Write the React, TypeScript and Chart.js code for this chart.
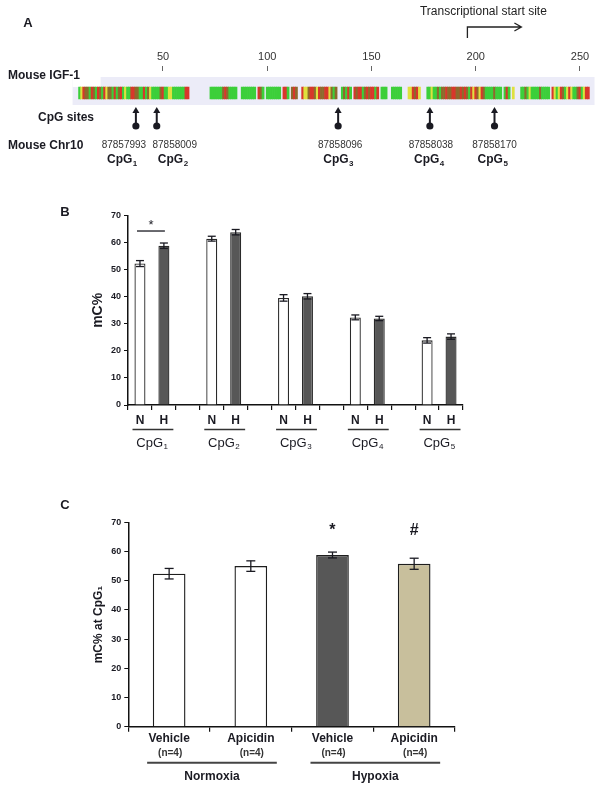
import React, { useEffect, useRef } from 'react';
import { Chart, registerables } from 'chart.js';

Chart.register(...registerables);

const FONT = '"Liberation Sans", Arial, Helvetica, sans-serif';
const INK = '#1a1a22';

// ---------------- Panel A data ----------------
const seqTickValues = [50, 100, 150, 200, 250];
const seqFirstPosition = 10;
const seqColorCodes = [
  'gyrbbgrbgr', 'bgrybbgrgbrgyg', 'grrbbggrgbyg', 'gggbrggyyggggggrr', '..........',
  'ggggggbrbgggg', '..', 'ggggggg', '.', 'rbg', '.', 'ggggggg', '.', 'rrg', '.', 'brb', '..',
  'ryybrrbyrbbrrybgb', '..', 'gbgrg', '.', 'rbrrgbrbrrgr', '.', 'ggg', '..', 'ggggg', '...',
  'yyrbry', '...', 'ggyggbg', 'bbrbbrrbbrbrbg', 'ryrbyrb', 'ggggbggg', '.', 'grg', '.', 'y', '...',
  'ggbgyg', 'gggbgggg', '.', 'rygyrbgyryggbrgyrr',
].join('');
const seqPalette: Record<string, string> = { g: '#3ccf3a', y: '#dfe03e', r: '#d8372b', b: '#8e6a2c' };
const cpgPositions = [37, 47, 134, 178, 209];
const cpgChrCoords = ['87857993', '87858009', '87858096', '87858038', '87858170'];
const cpgSubscripts = ['1', '2', '3', '4', '5'];
const tssPosition = 196;
const tssLabel = 'Transcriptional start site';
const rowLabels = ['Mouse IGF-1', 'CpG sites', 'Mouse Chr10'];

// ---------------- Panel B data ----------------
const bSites = ['1', '2', '3', '4', '5'];
const bGroupLabels = ['N', 'H'];
const bNormoxia = [52.3, 61.5, 39.6, 32.4, 23.9];
const bNormoxiaErr = [1.1, 0.9, 1.2, 0.9, 1.0];
const bHypoxia = [58.9, 63.9, 40.2, 32.0, 25.3];
const bHypoxiaErr = [1.0, 1.0, 1.0, 0.8, 1.0];
const bSignificant = [true, false, false, false, false];

// ---------------- Panel C data ----------------
const cTreatments = ['Vehicle', 'Apicidin', 'Vehicle', 'Apicidin'];
const cSampleSizes = ['(n=4)', '(n=4)', '(n=4)', '(n=4)'];
const cValues = [52.4, 55.0, 58.8, 55.8];
const cErrors = [1.8, 1.8, 1.0, 1.9];
const cMarks = ['', '', '*', '#'];
const cConditions = ['Normoxia', 'Hypoxia'];
const cColors = ['#ffffff', '#ffffff', '#575757', '#c8bf9c'];

// ---------------- helpers ----------------
function txt(ctx: CanvasRenderingContext2D, s: string, x: number, y: number, font: string, align: CanvasTextAlign = 'center', color = INK, baseline: CanvasTextBaseline = 'middle') {
  ctx.save();
  ctx.font = font;
  ctx.fillStyle = color;
  ctx.textAlign = align;
  ctx.textBaseline = baseline;
  ctx.fillText(s, x, y);
  ctx.restore();
}

function subTxt(ctx: CanvasRenderingContext2D, base: string, sub: string, cx: number, cy: number, size: number, weight: string, color = INK) {
  ctx.save();
  const f1 = `${weight} ${size}px ${FONT}`;
  const f2 = `${weight} ${Math.round(size * 0.65)}px ${FONT}`;
  ctx.font = f1;
  const w1 = ctx.measureText(base).width;
  ctx.font = f2;
  const w2 = ctx.measureText(sub).width;
  const x0 = cx - (w1 + w2) / 2;
  ctx.fillStyle = color;
  ctx.textAlign = 'left';
  ctx.textBaseline = 'middle';
  ctx.font = f1;
  ctx.fillText(base, x0, cy);
  ctx.font = f2;
  ctx.fillText(sub, x0 + w1 + 0.5, cy + size * 0.32);
  ctx.restore();
}

function line(ctx: CanvasRenderingContext2D, x1: number, y1: number, x2: number, y2: number, w = 1.3, color = INK) {
  ctx.save();
  ctx.strokeStyle = color;
  ctx.lineWidth = w;
  ctx.beginPath();
  ctx.moveTo(x1, y1);
  ctx.lineTo(x2, y2);
  ctx.stroke();
  ctx.restore();
}

function errorBar(ctx: CanvasRenderingContext2D, x: number, yHi: number, yLo: number, cap: number) {
  line(ctx, x, yHi, x, yLo, 1.3);
  line(ctx, x - cap / 2, yHi, x + cap / 2, yHi, 1.3);
  line(ctx, x - cap / 2, yLo, x + cap / 2, yLo, 1.3);
}

function ChartCanvas({ make, top, height }: { make: () => any; top: number; height: number }) {
  const ref = useRef<HTMLCanvasElement>(null);
  useEffect(() => {
    const chart = new Chart(ref.current as HTMLCanvasElement, make());
    return () => chart.destroy();
  }, []);
  return (
    <canvas
      ref={ref}
      width={602}
      height={height}
      style={{ position: 'absolute', left: 0, top, width: 602, height }}
    />
  );
}

// ---------------- Panel A ----------------
function makeA() {
  const bars: any[] = [];
  const colors: string[] = [];
  for (let i = 0; i < seqColorCodes.length; i++) {
    const c = seqColorCodes[i];
    if (c === '.') continue;
    bars.push({ x: seqFirstPosition + i, y: [0.176, 0.53] });
    colors.push(seqPalette[c]);
  }
  const decor = {
    id: 'stripDecor',
    beforeDatasetsDraw(chart: any) {
      const { ctx, chartArea } = chart;
      const xs = chart.scales.x;
      const x0 = xs.getPixelForValue(seqFirstPosition) - 7;
      const x1 = chartArea.right + 2;
      ctx.save();
      ctx.fillStyle = '#ececf8';
      ctx.fillRect(x0, chartArea.top + 6, x1 - x0, chartArea.bottom - chartArea.top - 6);
      ctx.fillStyle = '#ffffff';
      ctx.fillRect(x0, chartArea.top + 6, 28, 10);
      ctx.restore();
    },
    afterDraw(chart: any) {
      const { ctx, chartArea } = chart;
      const xs = chart.scales.x;
      const nudge = [-12, 18, 2, 1, 0];
      cpgPositions.forEach((p, i) => {
        const px = xs.getPixelForValue(p);
        const yTip = chartArea.bottom + 2;
        ctx.save();
        ctx.fillStyle = INK;
        ctx.beginPath();
        ctx.moveTo(px, yTip);
        ctx.lineTo(px - 3.5, yTip + 6);
        ctx.lineTo(px + 3.5, yTip + 6);
        ctx.closePath();
        ctx.fill();
        ctx.beginPath();
        ctx.arc(px, chartArea.bottom + 21, 3.6, 0, Math.PI * 2);
        ctx.fill();
        ctx.restore();
        line(ctx, px, yTip + 5, px, chartArea.bottom + 21, 2);
        txt(ctx, cpgChrCoords[i], px + nudge[i], 145, `10px ${FONT}`, 'center', '#333');
        subTxt(ctx, 'CpG', cpgSubscripts[i], px + nudge[i] - 2, 159.5, 12, 'bold');
      });
      // transcriptional start site
      const tx = xs.getPixelForValue(tssPosition);
      ctx.save();
      ctx.strokeStyle = '#222';
      ctx.lineWidth = 1.3;
      ctx.beginPath();
      ctx.moveTo(tx, 38);
      ctx.lineTo(tx, 27);
      ctx.lineTo(tx + 54, 27);
      ctx.moveTo(tx + 47, 23);
      ctx.lineTo(tx + 54, 27);
      ctx.lineTo(tx + 47, 31);
      ctx.stroke();
      ctx.restore();
      txt(ctx, tssLabel, tx + 16, 12, `12px ${FONT}`, 'center', '#222');
      txt(ctx, 'A', 28, 23, `bold 13px ${FONT}`);
      txt(ctx, rowLabels[0], 8, 76, `bold 12px ${FONT}`, 'left');
      txt(ctx, rowLabels[1], 38, 118, `bold 12px ${FONT}`, 'left');
      txt(ctx, rowLabels[2], 8, 146, `bold 12px ${FONT}`, 'left');
    },
  };
  return {
    type: 'bar',
    data: {
      datasets: [
        {
          data: bars,
          backgroundColor: colors,
          borderWidth: 0,
          barPercentage: 1,
          categoryPercentage: 1,
        },
      ],
    },
    options: {
      responsive: false,
      maintainAspectRatio: false,
      animation: false,
      layout: { padding: { left: 58.75, right: 9.5, top: 50, bottom: 65 } },
      plugins: { legend: { display: false }, tooltip: { enabled: false } },
      scales: {
        x: {
          type: 'linear',
          position: 'top',
          min: 0,
          max: 256,
          offset: false,
          afterBuildTicks: (s: any) => {
            s.ticks = seqTickValues.map((v) => ({ value: v }));
          },
          afterFit: (s: any) => {
            s.height = 21;
          },
          grid: { drawOnChartArea: false, drawTicks: true, tickLength: 5, color: '#666', offset: false },
          border: { display: false },
          ticks: { font: { family: FONT, size: 11 }, color: '#333', padding: 2, maxRotation: 0, autoSkip: false },
        },
        y: { display: false, min: 0, max: 1 },
      },
    },
    plugins: [decor],
  };
}

// ---------------- Panel B ----------------
function makeB() {
  const labels: string[] = [];
  const values: (number | null)[] = [];
  const errs: (number | null)[] = [];
  const fills: string[] = [];
  bSites.forEach((_, i) => {
    labels.push(bGroupLabels[0], bGroupLabels[1]);
    values.push(bNormoxia[i], bHypoxia[i]);
    errs.push(bNormoxiaErr[i], bHypoxiaErr[i]);
    fills.push('#ffffff', '#575757');
    if (i < bSites.length - 1) {
      labels.push('');
      values.push(null);
      errs.push(null);
      fills.push('#ffffff');
    }
  });
  const decor = {
    id: 'bDecor',
    afterDraw(chart: any) {
      const { ctx, chartArea } = chart;
      const xs = chart.scales.x;
      const ys = chart.scales.y;
      const meta = chart.getDatasetMeta(0);
      values.forEach((v, i) => {
        const e = errs[i];
        if (v == null || e == null) return;
        const bx = meta.data[i].x;
        errorBar(ctx, bx, ys.getPixelForValue(v + e), ys.getPixelForValue(v - e), 8);
      });
      const slot = xs.width / labels.length;
      bSites.forEach((site, g) => {
        const xn = meta.data[3 * g].x;
        const xh = meta.data[3 * g + 1].x;
        line(ctx, xn - slot / 2 + 4.5, chartArea.bottom + 24.5, xh + slot / 2 - 2.5, chartArea.bottom + 24.5, 1.5, '#333');
        subTxt(ctx, 'CpG', site, (xn + xh) / 2, chartArea.bottom + 38, 13, 'normal');
        if (bSignificant[g]) {
          const topVal = Math.max(bNormoxia[g] + bNormoxiaErr[g], bHypoxia[g] + bHypoxiaErr[g]);
          const ly = ys.getPixelForValue(topVal) - 12;
          line(ctx, xn - 3, ly, xh + 1, ly, 1.3);
          txt(ctx, '*', (xn + xh) / 2 - 1, ly - 6, `13px ${FONT}`);
        }
      });
      txt(ctx, 'B', 65, 42, `bold 13px ${FONT}`);
    },
  };
  return {
    type: 'bar',
    data: {
      labels,
      datasets: [
        {
          data: values,
          backgroundColor: fills,
          borderColor: '#2a2a2a',
          borderWidth: 1.3,
          borderSkipped: 'bottom',
          barPercentage: 0.92,
          categoryPercentage: 0.5,
        },
      ],
    },
    options: {
      responsive: false,
      maintainAspectRatio: false,
      animation: false,
      layout: { padding: { left: 85.6, right: 139, top: 45.7, bottom: 35 } },
      plugins: { legend: { display: false }, tooltip: { enabled: false } },
      scales: {
        x: {
          type: 'category',
          offset: true,
          grid: { offset: true, drawOnChartArea: false, tickLength: 5, color: '#111', lineWidth: 1.2 },
          border: { color: '#111', width: 1.5 },
          ticks: { font: { family: FONT, size: 12, weight: 'bold' }, color: INK, padding: 3, autoSkip: false, maxRotation: 0 },
          afterFit: (s: any) => {
            s.height = 20;
          },
        },
        y: {
          min: 0,
          max: 70,
          ticks: { stepSize: 10, font: { family: FONT, size: 9, weight: 'bold' }, color: INK, padding: 3 },
          grid: { drawOnChartArea: false, tickLength: 4, color: '#111' },
          border: { color: '#111', width: 1.5 },
          title: { display: true, text: 'mC%', font: { family: FONT, size: 14, weight: 'bold' }, color: INK, padding: { top: 4, bottom: 4 } },
          afterFit: (s: any) => {
            s.width = 42.4;
          },
        },
      },
    },
    plugins: [decor],
  };
}

// ---------------- Panel C ----------------
function makeC() {
  const decor = {
    id: 'cDecor',
    afterDraw(chart: any) {
      const { ctx, chartArea } = chart;
      const ys = chart.scales.y;
      const meta = chart.getDatasetMeta(0);
      cValues.forEach((v, i) => {
        const bx = meta.data[i].x;
        errorBar(ctx, bx, ys.getPixelForValue(v + cErrors[i]), ys.getPixelForValue(v - cErrors[i]), 9);
        if (cMarks[i]) txt(ctx, cMarks[i], bx, chartArea.top + 13, `bold 16px ${FONT}`, 'center', INK, 'alphabetic');
        txt(ctx, cSampleSizes[i], bx + 1, chartArea.bottom + 26.6, `bold 10px ${FONT}`, 'center', '#333');
      });
      cConditions.forEach((cond, g) => {
        const xa = meta.data[2 * g].x - 22;
        const xb = meta.data[2 * g + 1].x + 26;
        line(ctx, xa, chartArea.bottom + 36, xb, chartArea.bottom + 36, 2, '#444');
        txt(ctx, cond, (xa + xb) / 2, chartArea.bottom + 50, `bold 12px ${FONT}`);
      });
      txt(ctx, 'C', 65, 40, `bold 13px ${FONT}`);
    },
  };
  return {
    type: 'bar',
    data: {
      labels: cTreatments,
      datasets: [
        {
          data: cValues,
          backgroundColor: cColors,
          borderColor: '#1e1e1e',
          borderWidth: 1.4,
          borderSkipped: 'bottom',
          barPercentage: 0.5,
          categoryPercentage: 0.8,
        },
      ],
    },
    options: {
      responsive: false,
      maintainAspectRatio: false,
      animation: false,
      layout: { padding: { left: 87.1, right: 147, top: 57.3, bottom: 44.3 } },
      plugins: { legend: { display: false }, tooltip: { enabled: false } },
      scales: {
        x: {
          type: 'category',
          offset: true,
          grid: { offset: true, drawOnChartArea: false, tickLength: 5, color: '#111', lineWidth: 1.2 },
          border: { color: '#111', width: 1.5 },
          ticks: { font: { family: FONT, size: 12, weight: 'bold' }, color: INK, padding: 0, autoSkip: false, maxRotation: 0 },
          afterFit: (s: any) => {
            s.height = 20;
          },
        },
        y: {
          min: 0,
          max: 70,
          ticks: { stepSize: 10, font: { family: FONT, size: 9, weight: 'bold' }, color: INK, padding: 3 },
          grid: { drawOnChartArea: false, tickLength: 4, color: '#111' },
          border: { color: '#111', width: 1.5 },
          title: { display: true, text: 'mC% at CpG₁', font: { family: FONT, size: 12, weight: 'bold' }, color: INK, padding: { top: 4, bottom: 4 } },
          afterFit: (s: any) => {
            s.width = 41.2;
          },
        },
      },
    },
    plugins: [decor],
  };
}

export default function App() {
  return (
    <div style={{ position: 'absolute', left: 0, top: 0, width: 602, height: 791, background: '#ffffff', overflow: 'hidden' }}>
      <ChartCanvas make={makeA} top={0} height={170} />
      <ChartCanvas make={makeB} top={170} height={290} />
      <ChartCanvas make={makeC} top={465} height={326} />
    </div>
  );
}
